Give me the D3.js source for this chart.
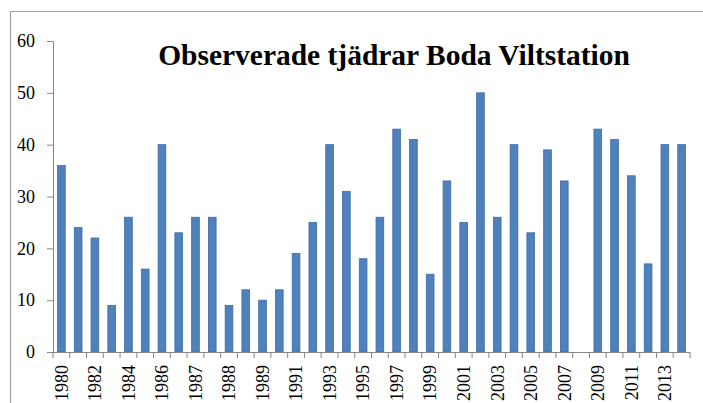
<!DOCTYPE html>
<html>
<head>
<meta charset="utf-8">
<script src="https://cdn.jsdelivr.net/npm/d3@7"></script>
<style>
  body { margin: 0; background: #fff; }
  svg { display: block; }
</style>
</head>
<body>
<div id="chart"></div>
<script>
// data
var years = ["1980","1981","1982","1983","1984","1985","1986","1986","1987","1987",
             "1988","1988","1989","1990","1991","1992","1993","1994","1995","1996",
             "1997","1998","1999","2000","2001","2002","2003","2004","2005","2006",
             "2007","2008","2009","2010","2011","2012","2013","2014"];
var counts = [36,24,22,9,26,16,40,23,26,26,
              9,12,10,12,19,25,40,31,18,26,
              43,41,15,33,25,50,26,40,23,39,
              33,null,43,41,34,17,40,40];
var yTicks = [0,10,20,30,40,50,60];
var title = "Observerade tjädrar Boda Viltstation";

(function() {
    var w = 703, h = 403;
    var m = {left: 53, right: 690, top: 41, bottom: 352};
    var axisColor = "#868686";
    var serif = "'Liberation Serif', 'DejaVu Serif', serif";

    var svg = d3.select("#chart")
        .append("svg")
        .attr("width", w)
        .attr("height", h);

    // chart frame
    svg.append("path")
        .attr("d", "M10.5," + h + "V11.5H" + w)
        .attr("fill", "none")
        .attr("stroke", "#a0a0a0")
        .attr("stroke-width", 1.2);

    var x = d3.scaleBand()
        .domain(d3.range(years.length))
        .range([m.left, m.right])
        .paddingInner(0.54)
        .paddingOuter(0.27);

    var y = d3.scaleLinear()
        .domain([0, 60])
        .range([m.bottom, m.top]);

    // bars
    svg.selectAll("rect.bar")
        .data(counts.map(function(v, i) { return {i: i, v: v}; })
            .filter(function(d) { return d.v != null; }))
        .enter()
        .append("rect")
        .attr("class", "bar")
        .attr("x", function(d) { return x(d.i); })
        .attr("y", function(d) { return y(d.v); })
        .attr("width", x.bandwidth())
        .attr("height", function(d) { return y(0) - y(d.v); })
        .attr("fill", "#4F81BD")
        .attr("stroke", "#3F6DA6")
        .attr("stroke-width", 0.8);

    // y axis
    var yAxis = svg.append("g")
        .attr("transform", "translate(" + m.left + ",0)")
        .call(d3.axisLeft(y).tickValues(yTicks).tickSize(6).tickPadding(12).tickSizeOuter(0));
    yAxis.select(".domain").attr("stroke", axisColor);
    yAxis.selectAll(".tick line").attr("stroke", axisColor);
    yAxis.selectAll("text")
        .attr("fill", "#000")
        .style("font-family", serif)
        .style("font-size", "18px");

    // x axis: line plus ticks on category boundaries
    var step = x.step();
    var x0 = x(0) - (step - x.bandwidth()) / 2;
    var xAxis = svg.append("g");
    xAxis.append("line")
        .attr("x1", m.left).attr("x2", m.right)
        .attr("y1", m.bottom + 0.5).attr("y2", m.bottom + 0.5)
        .attr("stroke", axisColor);
    xAxis.selectAll("line.tk")
        .data(d3.range(years.length + 1))
        .enter()
        .append("line")
        .attr("class", "tk")
        .attr("x1", function(i) { return x0 + i * step; })
        .attr("x2", function(i) { return x0 + i * step; })
        .attr("y1", m.bottom)
        .attr("y2", m.bottom + 6)
        .attr("stroke", axisColor);

    xAxis.selectAll("text")
        .data(d3.range(0, years.length, 2))
        .enter()
        .append("text")
        .attr("transform", function(i) {
            return "translate(" + (x(i) + x.bandwidth() / 2) + "," + (m.bottom + 13) + ") rotate(-90)";
        })
        .attr("text-anchor", "end")
        .attr("dy", "0.35em")
        .style("font-family", serif)
        .style("font-size", "18px")
        .text(function(i) { return years[i]; });

    // title, sized to the width it has in the picture
    var t = svg.append("text")
        .attr("x", 394)
        .attr("y", 65)
        .attr("text-anchor", "middle")
        .style("font-family", serif)
        .style("font-weight", "bold")
        .style("font-size", "27px")
        .text(title);
    var tw = t.node().getComputedTextLength();
    t.style("font-size", (27 * 472 / tw).toFixed(2) + "px");
})();
</script>
</body>
</html>
